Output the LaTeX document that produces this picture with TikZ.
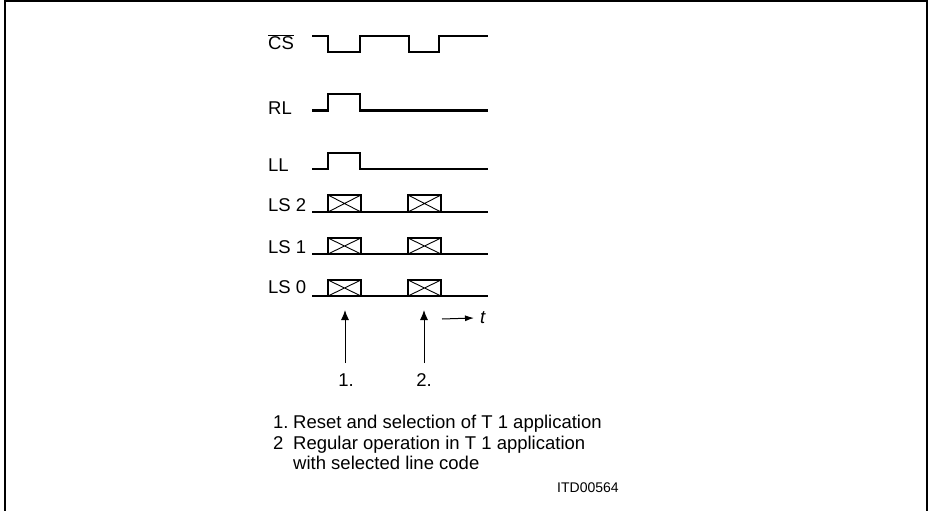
\documentclass[tikz,border=0pt]{standalone}
\usepackage{fontspec}
\setmainfont{Liberation Sans}
\usetikzlibrary{positioning,arrows.meta}

\begin{document}
\begin{tikzpicture}[x=1pt, y=-1pt, font=\fontsize{18.5}{21}\selectfont,
                    wave/.style={line width=2.4pt, line join=miter},
                    cross/.style={line width=0.9pt},
                    sig/.style={anchor=base west, inner sep=0pt},
                    note/.style={anchor=base west, inner sep=0pt},
                    uparrow/.style={-{Latex[length=10pt,width=8pt]}, line width=1pt}]

\useasboundingbox (0,0) rectangle (930,511);

% frame
\draw[line width=2pt] (4.5,520) -- (4.5,1) -- (927,1) -- (927,520);

% signal names
\node[sig] (cs) at (268,49.6) {$\overline{\mbox{CS}}$};
\node[sig] (rl) at (268,114.6) {RL};
\node[sig] (ll) at (268,171.6) {LL};
\node[sig] (ls2) at (268,211.6) {LS 2};
\node[sig] (ls1) at (268,253.6) {LS 1};
\node[sig] (ls0) at (268,293.6) {LS 0};

% waveforms
\draw[wave] (312,36) -- (328,36) -- (328,52) -- (360,52) -- (360,36) -- (409,36)
            -- (409,52) -- (439,52) -- (439,36) -- (488,36);
\draw[wave] (312,110.7) -- (328,110.7) -- (328,94) -- (360,94) -- (360,110.7) -- (488,110.7);
\draw[wave] (312,169) -- (328,169) -- (328,152.7) -- (360,152.7) -- (360,169) -- (488,169);

% line select boxes
\draw[wave] (312,212) -- (488,212);
\draw[wave] (328,195) rectangle (361,212);
\draw[wave] (408,195) rectangle (441,212);
\draw[cross] (328,195) -- (361,212) (328,212) -- (361,195);
\draw[cross] (408,195) -- (441,212) (408,212) -- (441,195);

\draw[wave] (312,254) -- (488,254);
\draw[wave] (328,238) rectangle (361,254);
\draw[wave] (408,238) rectangle (441,254);
\draw[cross] (328,238) -- (361,254) (328,254) -- (361,238);
\draw[cross] (408,238) -- (441,254) (408,254) -- (441,238);

\draw[wave] (312,296) -- (488,296);
\draw[wave] (328,280) rectangle (361,296);
\draw[wave] (408,280) rectangle (441,296);
\draw[cross] (328,280) -- (361,296) (328,296) -- (361,280);
\draw[cross] (408,280) -- (441,296) (408,296) -- (441,280);

% time marks
\node[anchor=base, inner sep=0pt] (m1) at (346,386.6) {1.};
\node[anchor=base, inner sep=0pt] (m2) at (424,386.6) {2.};
\coordinate (foot1) at (345,363);
\coordinate (tip1) at (345,310);
\coordinate (foot2) at (424,363);
\coordinate (tip2) at (424,310);
\draw[uparrow] (foot1) -- (tip1);
\draw[uparrow] (foot2) -- (tip2);

\node[anchor=west, inner sep=0pt] (time) at (480,318) {\itshape t};
\coordinate (t0) at (442,319);
\draw[-{Latex[length=9pt,width=6pt]}, line width=1pt] (t0) -- ([xshift=-6pt]time.west);

% notes
\node[note] (n1) at (273,428) {1.};
\node[note] (txt1) at (293,428) {Reset and selection of T 1 application};
\node[note] (n2) at (273,449) {2};
\node[note] (txt2) at (293,449) {Regular operation in T 1 application};
\node[note] (txt3) at (293,469.5) {with selected line code};
\node[note, font=\fontsize{14}{16}\selectfont] (code) at (557,492) {ITD00564};

\end{tikzpicture}
\end{document}
